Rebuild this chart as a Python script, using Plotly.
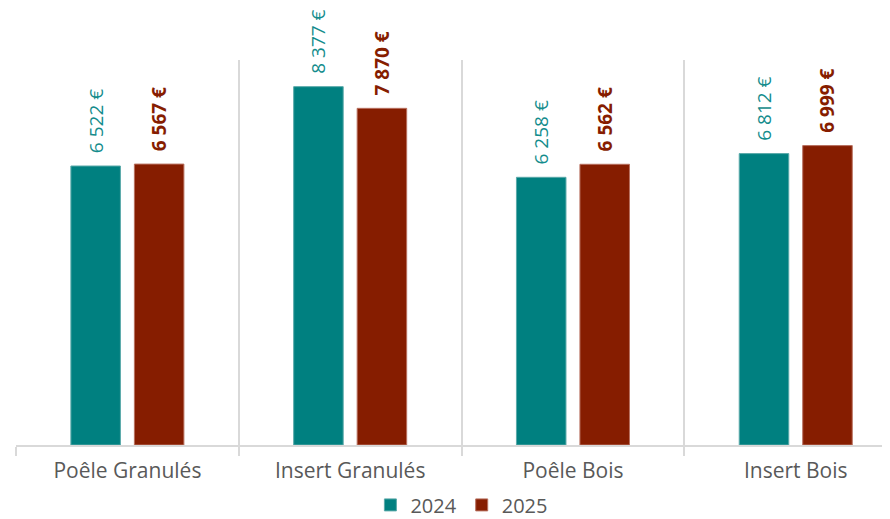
import plotly.graph_objects as go

categories = ["Poêle Granulés", "Insert Granulés", "Poêle Bois", "Insert Bois"]
values_2024 = [6522, 8377, 6258, 6812]
values_2025 = [6567, 7870, 6562, 6999]
series_names = ["2024", "2025"]

TEAL = "#008080"
DARKRED = "#861D00"
PAD = "\u00a0\u00a0"


def fmt(v):
    return PAD + f"{v:,}".replace(",", " ") + " €"


fig = go.Figure()
fig.add_trace(go.Bar(
    x=categories, y=values_2024, name=series_names[0],
    marker=dict(color=TEAL, line=dict(color="#5aa9a9", width=1)),
    text=[fmt(v) for v in values_2024], textposition="outside", textangle=-90,
    textfont=dict(family="Open Sans", size=19, color="#138c8c"),
    cliponaxis=False, constraintext="none",
))
fig.add_trace(go.Bar(
    x=categories, y=values_2025, name=series_names[1],
    marker=dict(color=DARKRED, line=dict(color="#b8705f", width=1)),
    text=["<b>" + fmt(v) + "</b>" for v in values_2025], textposition="outside", textangle=-90,
    textfont=dict(family="Open Sans", size=19, color=DARKRED),
    cliponaxis=False, constraintext="none",
))

fig.update_layout(
    width=890, height=519,
    margin=dict(l=8, r=0, t=52, b=82, autoexpand=False),
    paper_bgcolor="white", plot_bgcolor="white",
    barmode="group", bargap=0.43, bargroupgap=0.22,
    font=dict(family="Open Sans", color="#595959"),
    showlegend=True,
    legend=dict(orientation="h", xref="container", yref="container",
                x=0.51, xanchor="center", y=0.005, yanchor="bottom",
                font=dict(size=20, color="#595959"), itemwidth=30,
                traceorder="normal"),
)
fig.update_xaxes(
    type="category", range=[-0.5, 3.459], automargin=False,
    tickson="boundaries", showgrid=True, gridcolor="#d9d9d9", gridwidth=1.5,
    ticks="outside", ticklen=9, tickcolor="#d9d9d9", tickwidth=1.5,
    showline=True, linecolor="#d9d9d9", linewidth=1.5,
    ticklabelstandoff=6,
    tickfont=dict(family="Open Sans", size=21, color="#595959"),
)
fig.update_yaxes(range=[0, 9000], showgrid=False, zeroline=False, automargin=False,
                 showticklabels=False, showline=False)

fig.write_html("out.html")
